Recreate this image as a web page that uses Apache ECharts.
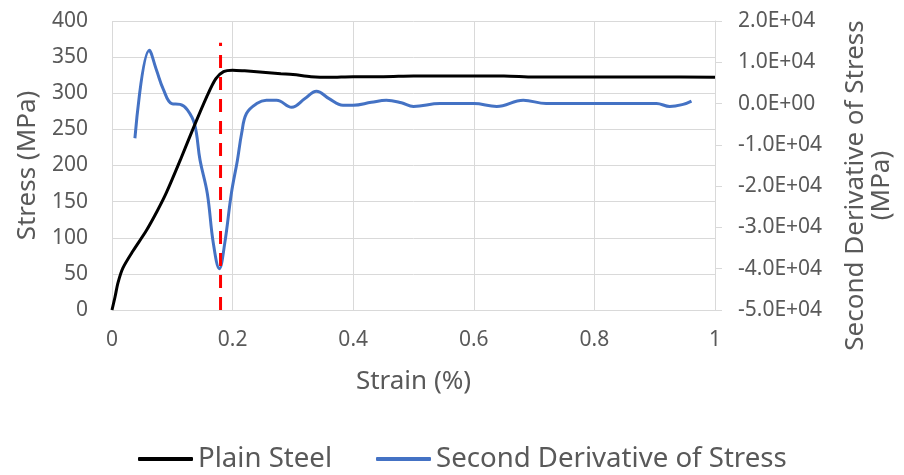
<!DOCTYPE html>
<html>
<head>
<meta charset="utf-8">
<script src="https://cdn.jsdelivr.net/npm/echarts@6/dist/echarts.min.js"></script>
<style>html,body{margin:0;padding:0;background:#fff;}#c{width:904px;height:475px;}</style>
</head>
<body>
<div id="c"></div>
<script>
// Plain Steel: strain (%) and stress (MPa)
var steelStrain = [0, 0.005, 0.01, 0.018, 0.035, 0.057, 0.075, 0.09, 0.113, 0.134, 0.157, 0.172, 0.185, 0.2, 0.22, 0.25, 0.28, 0.3, 0.33, 0.36, 0.4, 0.45, 0.5, 0.55, 0.6, 0.65, 0.7, 0.8, 0.9, 1.0];
var steelStress = [0, 18, 38, 58, 82, 110, 137, 162, 207, 250, 295, 320, 330, 332, 331, 329, 327, 326, 323, 322, 323, 323, 324, 324, 324, 324, 322.5, 322.5, 322.5, 322];
// Second derivative of stress (MPa)
var d2Strain = [0.038, 0.062, 0.074, 0.085, 0.099, 0.113, 0.125, 0.137, 0.146, 0.158, 0.168, 0.178, 0.187, 0.198, 0.208, 0.215, 0.223, 0.24, 0.256, 0.273, 0.298, 0.32, 0.339, 0.36, 0.383, 0.4, 0.43, 0.455, 0.48, 0.5, 0.544, 0.6, 0.638, 0.682, 0.72, 0.8, 0.903, 0.925, 0.947, 0.961];
var d2Value = [-8400, 12900, 8000, 3500, 0, -200, -1500, -5000, -13700, -21700, -33800, -40000, -33800, -21700, -13700, -7200, -2400, 0, 800, 800, -900, 1200, 3000, 1200, -400, -400, 300, 800, 200, -700, 0, 0, -700, 800, 0, 0, 0, -700, -200, 600];
// Yield marker (red dashed)
var markerStrain = [0.18, 0.18];
var markerStress = [0, 370];
// Axis ranges / ticks
var xTicks = [0, 0.2, 0.4, 0.6, 0.8, 1];
var leftTicks = [0, 50, 100, 150, 200, 250, 300, 350, 400];
var rightTicks = [-50000, -40000, -30000, -20000, -10000, 0, 10000, 20000];
var seriesNames = ['Plain Steel', 'Second Derivative of Stress'];

function zip(a, b) { return a.map(function (v, i) { return [v, b[i]]; }); }
function sci(v) {
  if (v === 0) return '0.0E+00';
  var s = v < 0 ? '-' : '';
  var a = Math.abs(v);
  var e = Math.floor(Math.log10(a) + 1e-9);
  var m = a / Math.pow(10, e);
  var es = (e < 0 ? '-' : '+') + (Math.abs(e) < 10 ? '0' : '') + Math.abs(e);
  return s + m.toFixed(1) + 'E' + es;
}

var FONT = 'Noto Sans';
var TXT = '#595959';
var GRID = '#d9d9d9';
var chart = echarts.init(document.getElementById('c'), null, { renderer: 'canvas' });
chart.setOption({
  animation: false,
  textStyle: { fontFamily: FONT, color: TXT },
  grid: { left: 112, right: 189, top: 21, bottom: 165, containLabel: false, outerBoundsMode: 'none' },
  legend: {
    data: seriesNames,
    left: 133, top: 440,
    icon: 'roundRect', itemWidth: 55, itemHeight: 4, itemGap: 44,
    textStyle: { fontFamily: FONT, fontSize: 27.6, color: TXT }
  },
  xAxis: {
    type: 'value', min: xTicks[0], max: xTicks[xTicks.length - 1], interval: xTicks[1] - xTicks[0],
    name: 'Strain (%)', nameLocation: 'middle', nameGap: 59,
    nameTextStyle: { fontFamily: FONT, fontSize: 26, color: TXT },
    axisLine: { show: true, lineStyle: { color: GRID, width: 1 } },
    axisTick: { show: false },
    axisLabel: { fontFamily: FONT, fontSize: 21, color: TXT, margin: 20 },
    splitLine: { show: true, lineStyle: { color: GRID, width: 1 } }
  },
  yAxis: [{
    type: 'value', min: leftTicks[0], max: leftTicks[leftTicks.length - 1], interval: leftTicks[1] - leftTicks[0],
    name: 'Stress (MPa)', nameLocation: 'middle', nameGap: 70,
    nameTextStyle: { fontFamily: FONT, fontSize: 26, color: TXT },
    axisLine: { show: false }, axisTick: { show: false },
    axisLabel: { fontFamily: FONT, fontSize: 21, color: TXT, margin: 24 },
    splitLine: { show: true, lineStyle: { color: GRID, width: 1 } }
  }, {
    type: 'value', position: 'right',
    min: rightTicks[0], max: rightTicks[rightTicks.length - 1], interval: rightTicks[1] - rightTicks[0],
    name: 'Second Derivative of Stress\n(MPa)', nameLocation: 'middle', nameRotate: 90, nameGap: 128,
    nameTextStyle: { fontFamily: FONT, fontSize: 26, color: TXT, lineHeight: 26, align: 'center', padding: [0, 40, 0, 0] },
    axisLine: { show: true, lineStyle: { color: GRID, width: 1 } },
    axisTick: { show: true, length: 7, inside: false, lineStyle: { color: GRID } },
    axisLabel: { fontFamily: FONT, fontSize: 21, color: TXT, margin: 23, formatter: sci },
    splitLine: { show: false }
  }],
  series: [{
    name: seriesNames[0], type: 'line', yAxisIndex: 0, data: zip(steelStrain, steelStress),
    smooth: 0.3, symbol: 'none', lineStyle: { color: '#000000', width: 3 }, itemStyle: { color: '#000000' }, z: 3
  }, {
    name: seriesNames[1], type: 'line', yAxisIndex: 1, data: zip(d2Strain, d2Value),
    smooth: 0.4, symbol: 'none', lineStyle: { color: '#4472C4', width: 3 }, itemStyle: { color: '#4472C4' }, z: 2
  }, {
    name: 'marker', type: 'line', yAxisIndex: 0, data: zip(markerStrain, markerStress),
    symbol: 'none', lineStyle: { color: '#FF0000', width: 3, type: [13, 9] }, z: 4, silent: true
  }]
});
</script>
</body>
</html>
